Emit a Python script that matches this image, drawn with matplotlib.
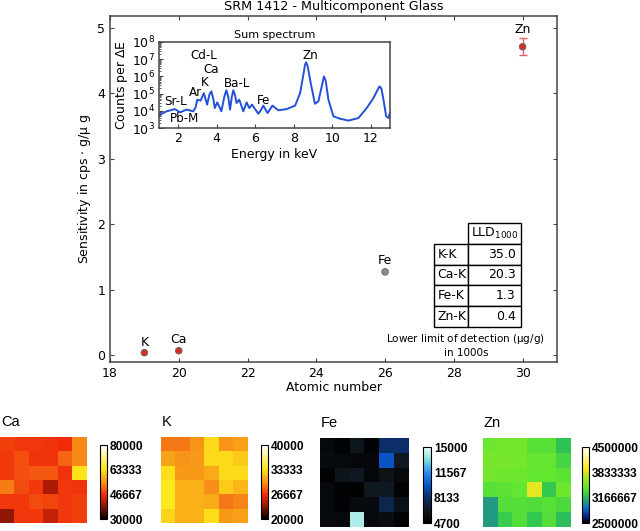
import matplotlib
matplotlib.use("Agg")
import matplotlib.pyplot as plt
from matplotlib.colors import LinearSegmentedColormap
from matplotlib.ticker import LogLocator, NullFormatter
import numpy as np

#Sensitivity data
Z = [19, 20, 26, 30]
sens = [0.035, 0.065, 1.27, 4.71]
sens_names = ["K", "Ca", "Fe", "Zn"]
sens_colors = ["#dc2a20", "#dc2a20", "#8c8c8c", "#dc2a20"]
label_gap = [0.05, 0.07, 0.07, 0.17]
zn_err = 0.13

#LLD table
lld_rows = ["K-K", "Ca-K", "Fe-K", "Zn-K"]
lld_vals = ["35.0", "20.3", "1.3", "0.4"]

#Sum spectrum (log10 of counts)
energy = [1.0, 1.05, 1.4, 1.83, 2.09, 2.43, 2.78, 2.9, 2.99, 3.16, 3.33, 3.5, 3.62, 3.72, 3.82, 3.9, 4.03, 4.24,
          4.4, 4.5, 4.6, 4.69, 4.78, 4.86, 4.95, 5.03, 5.17, 5.38, 5.55, 5.69, 5.83, 6.16, 6.3, 6.42, 6.64, 6.89, 7.2,
          7.63, 8.07, 8.33, 8.5, 8.58, 8.64, 8.72, 8.88, 9.1, 9.28, 9.45, 9.57, 9.66, 9.8, 10.06, 10.4, 10.84, 11.36,
          11.79, 12.14, 12.3, 12.45, 12.55, 12.66, 12.8, 12.92, 13.0]
log_counts = [3.7, 3.78, 3.97, 4.10, 3.91, 4.07, 3.97, 4.2, 4.65, 4.59, 5.03, 4.36, 4.95, 5.13, 4.7, 4.16, 4.49, 3.97,
              4.85, 5.19, 4.8, 4.07, 4.8, 5.19, 4.9, 4.45, 4.65, 3.97, 4.49, 4.16, 4.36, 3.83, 4.05, 4.30, 3.87, 4.30, 4.03,
              4.10, 4.30, 5.03, 6.1, 6.65, 6.82, 6.6, 5.62, 4.41, 4.55, 5.4, 6.0, 5.75, 4.65, 3.68, 3.54, 3.43, 3.58,
              4.16, 4.74, 5.1, 5.42, 5.3, 4.65, 3.68, 3.58, 3.9]
spec_labels = ["Sr-L", "Pb-M", "Ar", "K", "Ca", "Cd-L", "Ba-L", "Fe", "Zn"]
spec_x = [1.86, 2.35, 2.88, 3.38, 3.7, 3.33, 5.03, 6.42, 8.85]
spec_logy = [4.55, 3.54, 5.05, 5.62, 6.43, 7.2, 5.56, 4.59, 7.24]

#Element maps, colour value per cell
ca_map = [[48000, 47500, 47500, 47000, 46500, 54000],
          [47500, 49500, 47000, 47000, 51000, 54000],
          [47500, 49500, 50000, 50000, 47000, 63500],
          [53000, 49000, 47500, 41000, 47500, 47000],
          [47500, 47500, 49000, 48500, 47500, 48000],
          [39000, 47500, 47500, 43000, 47500, 48000]]
k_map = [[29000, 29000, 30000, 33000, 30000, 30500],
         [30700, 30000, 30300, 33000, 33000, 32300],
         [33200, 30300, 30300, 31000, 33000, 33000],
         [33700, 31300, 31300, 29800, 32400, 31500],
         [33700, 31300, 31300, 31000, 29000, 29400],
         [32800, 31300, 31300, 33200, 30300, 30500]]
fe_map = [[5400, 4900, 6300, 5000, 8100, 8100],
          [5500, 5400, 5300, 5200, 9800, 6500],
          [4900, 6100, 6500, 5300, 6000, 5400],
          [5400, 5000, 4800, 6400, 6500, 5000],
          [5400, 5000, 5500, 5500, 7500, 5900],
          [5500, 5400, 14000, 5400, 5700, 5000]]
zn_map = [[3480000, 3500000, 3500000, 3400000, 3400000, 3210000],
          [3530000, 3510000, 3500000, 3450000, 3450000, 3320000],
          [3500000, 3490000, 3490000, 3440000, 3450000, 3420000],
          [3400000, 3420000, 3440000, 3860000, 3230000, 3490000],
          [3060000, 3390000, 3390000, 3370000, 3400000, 3350000],
          [3060000, 3250000, 3380000, 3220000, 3390000, 3180000]]

map_names = ["Ca", "K", "Fe", "Zn"]
map_data = [ca_map, k_map, fe_map, zn_map]
map_ticks = [[30000, 46667, 63333, 80000], [20000, 26667, 33333, 40000],
             [4700, 8133, 11567, 15000], [2500000, 3166667, 3833333, 4500000]]

W, H = 640.0, 531.0
SPINE = '#444444'

def axpx(x0, y0, x1, y1):
    #pixel box (top-left origin) to a figure axes
    return fig.add_axes([x0/W, 1-y1/H, (x1-x0)/W, (y1-y0)/H])

def style_spines(a):
    for s in a.spines.values():
        s.set_linewidth(1.1)
        s.set_color(SPINE)

fig = plt.figure(figsize=(W/100, H/100), dpi=100)
plt.rcParams['mathtext.default'] = 'regular'

#Main sensitivity plot
ax = axpx(110, 16, 557, 362)
ax.errorbar(Z[3], sens[3], yerr=zn_err, fmt='none', ecolor='#ec5a6c', capsize=3, lw=1, zorder=2)
ax.scatter(Z, sens, c=sens_colors, edgecolors='#666666', s=22, linewidths=0.7, zorder=3)
for i in range(len(Z)):
    ax.text(Z[i], sens[i]+label_gap[i], sens_names[i], ha='center', va='bottom', fontsize=9)
ax.set_xlim(18, 31)
ax.set_ylim(-0.107, 5.18)
ax.set_yticks([0, 1, 2, 3, 4, 5])
ax.set_xticks([18, 20, 22, 24, 26, 28, 30])
ax.tick_params(labelsize=9, direction='in', top=True, right=True, length=3, color=SPINE)
ax.set_xlabel("Atomic number", fontsize=9, labelpad=1)
ax.set_ylabel(r"Sensitivity in cps $\cdot$ g/$\mu$ g", fontsize=9, labelpad=3)
ax.set_title("SRM 1412 - Multicomponent Glass", fontsize=9.2, pad=4)
style_spines(ax)

#LLD table
tab = ax.table(cellText=[[r, v] for r, v in zip(lld_rows, lld_vals)],
               colLabels=["", r"LLD$_{1000}$"], cellLoc='right',
               bbox=[(434-110)/447.0, (362-327)/346.0, (521-434)/447.0, (327-223)/346.0],
               colWidths=[34/87.0, 53/87.0])
tab.auto_set_font_size(False)
tab.set_fontsize(9)
tab[(0, 0)].set_visible(False)
tab[(0, 1)].get_text().set_ha('center')
for r in range(1, 5):
    tab[(r, 0)].get_text().set_ha('left')
    tab[(r, 0)]._loc = 'left'
ax.text(0.796, 0.049, "Lower limit of detection ($\\mu$g/g)\nin 1000s", transform=ax.transAxes,
        ha='center', va='center', fontsize=7.5, linespacing=1.35)

#Sum spectrum inset
ins = axpx(159, 42, 390, 128)
ins.plot(energy, 10.0**np.array(log_counts), color='#2350d8', lw=1.4, solid_joinstyle='round')
ins.set_yscale('log')
ins.set_xlim(1, 13)
ins.set_ylim(1e3, 1e8)
ins.set_xticks([2, 4, 6, 8, 10, 12])
ins.set_yticks([1e3, 1e4, 1e5, 1e6, 1e7, 1e8])
ins.yaxis.set_minor_locator(LogLocator(base=10, subs=np.arange(2, 10), numticks=20))
ins.yaxis.set_minor_formatter(NullFormatter())
ins.tick_params(labelsize=9, direction='in', length=3, pad=3, color=SPINE)
ins.tick_params(which='minor', direction='in', length=1.5, color=SPINE)
ins.set_xlabel("Energy in keV", fontsize=9, labelpad=2)
ins.set_ylabel("Counts per $\\Delta$E", fontsize=9, labelpad=1)
ins.set_title("Sum spectrum", fontsize=8, pad=3)
style_spines(ins)
for s, x, y in zip(spec_labels, spec_x, spec_logy):
    ins.text(x, 10.0**y, s, ha='center', va='center', fontsize=8.6)

#Element maps
map_boxes = [(0, 437, 87, 523), (161, 437, 248, 523), (320, 438, 409, 527), (483, 438, 571, 527)]
bar_boxes = [(100, 445, 107, 519), (261, 445, 268, 519), (423, 447, 431, 523), (582, 447, 589, 523)]
hot_cm = LinearSegmentedColormap.from_list('hot2', [(0, '#000000'), (0.2, '#a01a05'), (0.33, '#f02c0a'),
                                                    (0.48, '#f88a18'), (0.68, '#ffe81a'), (1, '#ffffff')])
fe_cm = LinearSegmentedColormap.from_list('fe', ['#000000', '#101820', '#0c2f6a', '#0a55c8', '#2a90f0', '#80e0e0', '#f0fff8'])
zn_cm = LinearSegmentedColormap.from_list('zn', [(0, '#000000'), (0.1, '#0a2a90'), (0.2, '#1070c0'), (0.29, '#28a07a'),
                                                 (0.36, '#30c850'), (0.47, '#62e632'), (0.6, '#a8e820'),
                                                 (0.72, '#ffe820'), (1, '#ffffff')])
cmaps = [hot_cm, hot_cm, fe_cm, zn_cm]
for i in range(4):
    x0, y0, x1, y1 = map_boxes[i]
    m = axpx(x0, y0, x1, y1)
    t = map_ticks[i]
    im = m.imshow(map_data[i], cmap=cmaps[i], vmin=t[0], vmax=t[-1], aspect='auto', interpolation='nearest')
    m.axis('off')
    fig.text((x0+1)/W, 1-(y0-15)/H, map_names[i], fontsize=10.5, va='center', ha='left', family='Liberation Sans')
    c = axpx(*bar_boxes[i])
    cb = fig.colorbar(im, cax=c, ticks=t, format='%d')
    cb.outline.set_linewidth(0.8)
    cb.ax.tick_params(labelsize=8.6, length=0, pad=2)
    for lab in cb.ax.get_yticklabels():
        lab.set_family('Liberation Sans')
        lab.set_weight('bold')

fig.savefig("out.png", dpi=100)
